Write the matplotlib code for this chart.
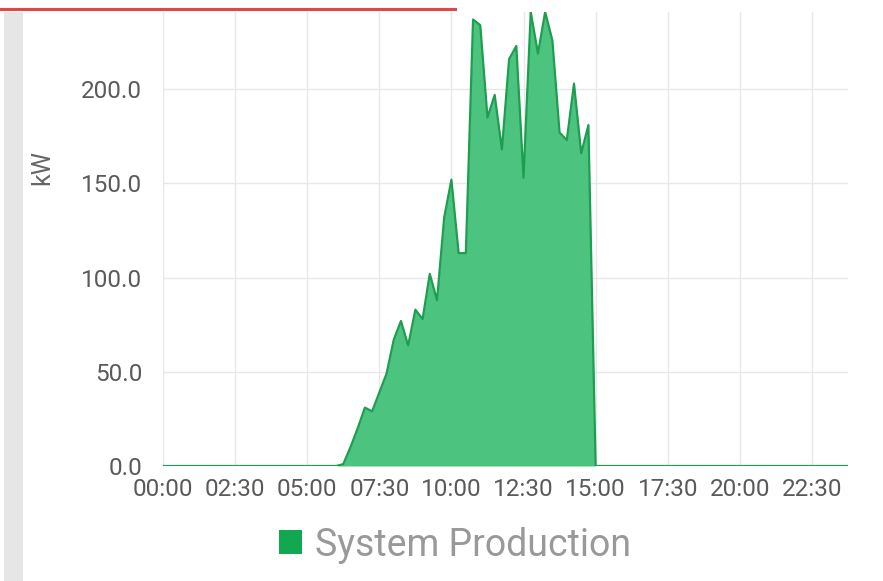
import matplotlib.pyplot as plt
from matplotlib.patches import Rectangle, Patch
from matplotlib.lines import Line2D

# Produção do sistema (kW) ao longo do dia
horarios = ["00:00", "06:00", "06:15", "06:30", "06:45", "07:00", "07:15", "07:30",
            "07:45", "08:00", "08:15", "08:30", "08:45", "09:00", "09:15", "09:30",
            "09:45", "10:00", "10:15", "10:30", "10:45", "11:00", "11:15", "11:30",
            "11:45", "12:00", "12:15", "12:30", "12:45", "13:00", "13:15", "13:30",
            "13:45", "14:00", "14:15", "14:30", "14:45", "15:00", "23:45"]
producao_kw = [0, 0, 1, 10, 20, 31, 29, 39,
               49, 67, 77, 64, 83, 78, 102, 88,
               132, 152, 113, 113, 237, 234, 185, 197,
               168, 216, 223, 153, 241, 219, 241, 226,
               177, 173, 203, 166, 181, 0, 0]

ticks_y = [0, 50, 100, 150, 200]
ticks_x_labels = ["00:00", "02:30", "05:00", "07:30", "10:00",
                  "12:30", "15:00", "17:30", "20:00", "22:30"]


def para_horas(s):
    h, m = s.split(":")
    return int(h) + int(m) / 60


x = [para_horas(h) for h in horarios]
ticks_x = [para_horas(h) for h in ticks_x_labels]

plt.rcParams['font.family'] = ['Roboto', 'DejaVu Sans']

fig = plt.figure(figsize=(8.83, 5.81), dpi=100)
ax = fig.add_axes([163 / 883, 115 / 581, 685 / 883, 454 / 581])

ax.fill_between(x, producao_kw, 0, color='#4cc47f', linewidth=0)
ax.plot(x, producao_kw, color='#1e9e50', linewidth=1.6)

ax.set_xlim(0, 23.75)
ax.set_ylim(0, 241)
ax.set_xticks(ticks_x)
ax.set_xticklabels(ticks_x_labels)
ax.set_yticks(ticks_y)
ax.set_yticklabels([f'{v:.1f}' for v in ticks_y])
ax.tick_params(axis='both', length=0, labelsize=17.5, colors='#5a5a5a')
ax.tick_params(axis='x', pad=9)
ax.tick_params(axis='y', pad=15)

for s in ax.spines.values():
    s.set_visible(False)
ax.grid(True, color='#e8e8e8', linewidth=1)
ax.set_axisbelow(True)

fig.text(42 / 883, 1 - 168 / 581, 'kW', rotation=90, ha='center', va='center',
         fontsize=18, color='#666666')

# faixa cinza à esquerda e linha vermelha no topo
fig.add_artist(Rectangle((4 / 883, 0), 19 / 883, 569 / 581, transform=fig.transFigure,
                         facecolor='#e6e6e6', edgecolor='none'))
fig.add_artist(Line2D([0, 455 / 883], [572 / 581, 572 / 581], transform=fig.transFigure,
                      color='#e04848', linewidth=2.2))

fig.legend(handles=[Patch(facecolor='#12a84f', edgecolor='none', label='System Production')],
           loc='center', bbox_to_anchor=(455 / 883, 36 / 581), frameon=False,
           fontsize=27, labelcolor='#999999', handlelength=0.62, handleheight=0.62,
           handletextpad=0.35)

fig.savefig('out.png', dpi=100)
